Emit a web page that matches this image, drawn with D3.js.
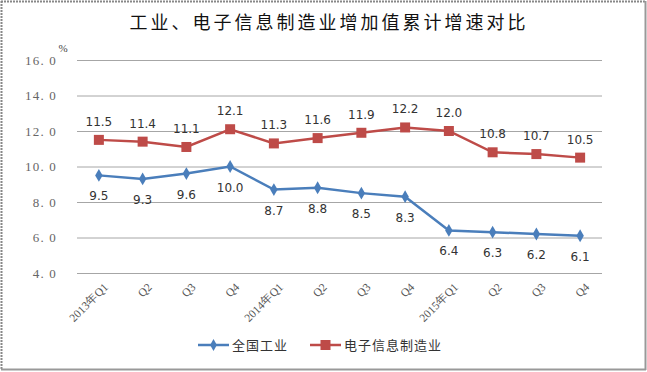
<!DOCTYPE html>
<html><head><meta charset="utf-8">
<script src="https://cdn.jsdelivr.net/npm/d3@7"></script>
<style>body{margin:0;background:#fff}svg{display:block}</style>
</head><body>
<script>
const categories = ["2013年Q1","Q2","Q3","Q4","2014年Q1","Q2","Q3","Q4","2015年Q1","Q2","Q3","Q4"];
const industry = [9.5, 9.3, 9.6, 10.0, 8.7, 8.8, 8.5, 8.3, 6.4, 6.3, 6.2, 6.1];
const electronics = [11.5, 11.4, 11.1, 12.1, 11.3, 11.6, 11.9, 12.2, 12.0, 10.8, 10.7, 10.5];
const yTicks = [4, 6, 8, 10, 12, 14, 16];
const seriesNames = ["全国工业", "电子信息制造业"];
const title = "工业、电子信息制造业增加值累计增速对比";

const W = 647, H = 372;
const svg = d3.select("body").append("svg").attr("width", W).attr("height", H);
svg.append("rect").attr("x",0).attr("y",0).attr("width",W).attr("height",H).attr("fill","#fff");
// frame
svg.append("line").attr("x1",1.5).attr("y1",1).attr("x2",1.5).attr("y2",370).attr("stroke","#888").attr("stroke-width",2).attr("stroke-dasharray","2,1");
svg.append("line").attr("x1",1).attr("y1",1.5).attr("x2",645).attr("y2",1.5).attr("stroke","#888").attr("stroke-width",2).attr("stroke-dasharray","2,1");
svg.append("line").attr("x1",645.5).attr("y1",1).attr("x2",645.5).attr("y2",370).attr("stroke","#999").attr("stroke-width",2);
svg.append("line").attr("x1",1).attr("y1",369.5).attr("x2",646).attr("y2",369.5).attr("stroke","#999").attr("stroke-width",2);

const x = d3.scaleBand().domain(d3.range(categories.length)).range([77, 602]);
const y = d3.scaleLinear().domain([4, 16]).range([273, 60]);
const cx = i => x(i) + x.bandwidth()/2;

svg.append("text").attr("x", 329).attr("y", 29).attr("text-anchor","middle")
  .attr("font-family","'Noto Sans CJK SC'").attr("font-size",18).attr("letter-spacing",3)
  .attr("fill","#111").text(title);

// grid
const yAxis = d3.axisLeft(y).tickValues(yTicks).tickSize(-(602-77)).tickFormat(d => d3.format(".1f")(d).replace(".", ". "));
const ga = svg.append("g").attr("transform","translate(77,0)").call(yAxis);
ga.select(".domain").remove();
ga.selectAll(".tick line").attr("stroke","#a6a6a6").attr("stroke-width",1);
ga.selectAll(".tick text").attr("x",-20).attr("font-family","'Liberation Serif'").attr("font-size",13)
  .attr("letter-spacing",1.2).style("fill","#666").attr("xml:space","preserve");
svg.append("text").attr("x",63).attr("y",52).attr("text-anchor","middle").attr("font-family","'Liberation Serif'").attr("font-size",11).attr("fill","#444").text("%");

// x labels
const xAxis = d3.axisBottom(x).tickSize(0).tickFormat(i => categories[i]);
const gx = svg.append("g").attr("transform","translate(0,273)").call(xAxis);
gx.select(".domain").remove();
gx.selectAll(".tick text").attr("text-anchor","end").attr("font-family","'Liberation Serif'").attr("font-size",11.5).style("fill","#555")
  .attr("transform","translate(7,12) rotate(-45)").attr("dy","0.35em").attr("y",0).attr("x",0);

const line = d3.line().x((d,i) => cx(i)).y(d => y(d));
const blue = "#4A7EBB", red = "#BE4B48";
svg.append("path").datum(industry).attr("d", line).attr("fill","none").attr("stroke",blue).attr("stroke-width",2.5);
svg.append("path").datum(electronics).attr("d", line).attr("fill","none").attr("stroke",red).attr("stroke-width",2.5);

svg.selectAll(".dia").data(industry).join("path")
  .attr("transform",(d,i)=>`translate(${cx(i)},${y(d)})`)
  .attr("d", d3.symbol().type(d3.symbolDiamond).size(48)).attr("fill",blue);
svg.selectAll(".sq").data(electronics).join("rect")
  .attr("x",(d,i)=>cx(i)-5).attr("y",d=>y(d)-5).attr("width",10).attr("height",10).attr("fill",red);

const lblFont = "'DejaVu Sans'";
svg.selectAll(".lb").data(industry).join("text")
  .attr("x",(d,i)=>cx(i)).attr("y",d=>y(d)+25).attr("text-anchor","middle")
  .attr("font-family",lblFont).attr("font-size",12).attr("fill","#333").text(d=>d3.format(".1f")(d));
svg.selectAll(".lr").data(electronics).join("text")
  .attr("x",(d,i)=>cx(i)).attr("y",d=>y(d)-14).attr("text-anchor","middle")
  .attr("font-family",lblFont).attr("font-size",12).attr("fill","#333").text(d=>d3.format(".1f")(d));

// legend
const lg = svg.append("g");
lg.append("line").attr("x1",198).attr("x2",229).attr("y1",345).attr("y2",345).attr("stroke",blue).attr("stroke-width",2.5);
lg.append("path").attr("transform","translate(213.5,345)").attr("d", d3.symbol().type(d3.symbolDiamond).size(40)).attr("fill",blue);
lg.append("text").attr("x",232).attr("y",350).attr("font-family","'Noto Sans CJK SC'").attr("font-size",13).attr("fill","#333").attr("letter-spacing",1).text(seriesNames[0]);
lg.append("line").attr("x1",310).attr("x2",341).attr("y1",345).attr("y2",345).attr("stroke",red).attr("stroke-width",2.5);
lg.append("rect").attr("x",320.5).attr("y",340).attr("width",10).attr("height",10).attr("fill",red);
lg.append("text").attr("x",344).attr("y",350).attr("font-family","'Noto Sans CJK SC'").attr("font-size",13).attr("fill","#333").attr("letter-spacing",1).text(seriesNames[1]);
</script>
</body></html>
